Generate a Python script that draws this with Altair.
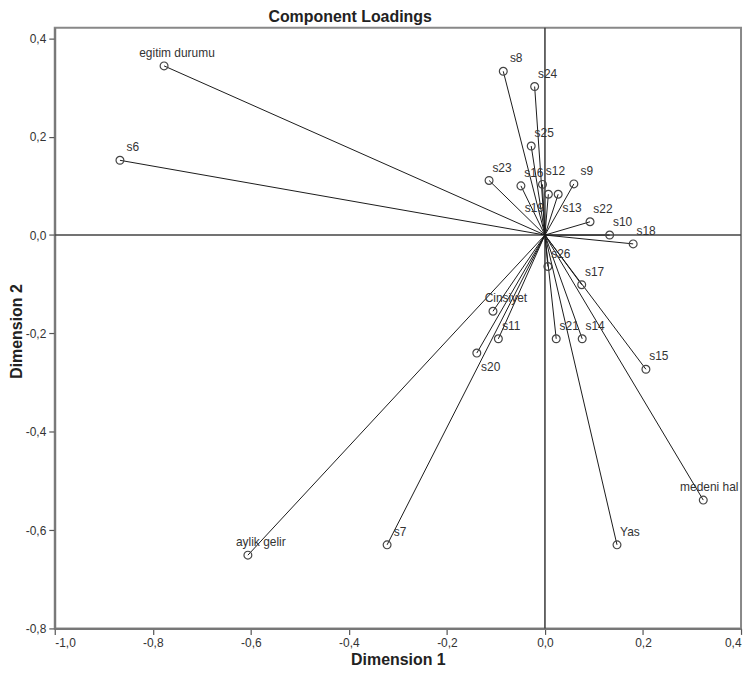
import altair as alt
import pandas as pd

# ---- data ----
names = ["egitim durumu", "s6", "s8", "s24", "s25", "s23", "s16", "s12", "s19", "s13",
         "s9", "s22", "s10", "s18", "s26", "s17", "Cinsiyet", "s11", "s21", "s14",
         "s20", "s15", "medeni hal", "Yas", "aylik gelir", "s7"]
dim1 = [-0.777, -0.867, -0.085, -0.021, -0.028, -0.114, -0.049, -0.005, 0.007, 0.027,
        0.059, 0.092, 0.132, 0.180, 0.006, 0.075, -0.106, -0.095, 0.023, 0.076,
        -0.139, 0.206, 0.323, 0.147, -0.606, -0.322]
dim2 = [0.344, 0.152, 0.333, 0.302, 0.181, 0.111, 0.100, 0.103, 0.083, 0.083,
        0.104, 0.027, 0.000, -0.018, -0.064, -0.101, -0.155, -0.211, -0.211, -0.211,
        -0.240, -0.273, -0.539, -0.630, -0.651, -0.630]

x_ticks = [-1.0, -0.8, -0.6, -0.4, -0.2, 0.0, 0.2, 0.4]
y_ticks = [-0.8, -0.6, -0.4, -0.2, 0.0, 0.2, 0.4]

below_right = ["s13", "s20"]
below_left = ["s19"]
shifted_left = ["medeni hal"]

df = pd.DataFrame({"name": names, "d1": dim1, "d2": dim2})
zero_df = pd.DataFrame({"z": [0.0]})

FONT = "Liberation Sans"
label_expr = "(datum.value < 0 ? '-' : '') + replace(format(abs(datum.value), '.1f'), '.', ',')"

xscale = alt.Scale(domain=[-1.0, 0.4], nice=False, zero=False)
yscale = alt.Scale(domain=[-0.8, 0.4217], nice=False, zero=False)

x_axis = alt.Axis(values=x_ticks, labelExpr=label_expr, title="Dimension 1",
                  titleY=31, titleBaseline="middle")
y_axis = alt.Axis(values=y_ticks, labelExpr=label_expr, title="Dimension 2",
                  titleX=-38, titleY=305, titleAngle=-90, titleBaseline="middle",
                  titleAlign="center")

X = alt.X("d1:Q", scale=xscale, axis=x_axis)
Y = alt.Y("d2:Q", scale=yscale, axis=y_axis)

base = alt.Chart(df)

zero_h = alt.Chart(zero_df).mark_rule(color="#444444", strokeWidth=1.6).encode(
    y=alt.Y("z:Q", scale=yscale, axis=y_axis))
zero_v = alt.Chart(zero_df).mark_rule(color="#444444", strokeWidth=1.6).encode(
    x=alt.X("z:Q", scale=xscale, axis=x_axis))

vectors = base.mark_rule(color="#1a1a1a", strokeWidth=1).encode(
    x=X, y=Y, x2=alt.datum(0), y2=alt.datum(0))

points = base.mark_point(shape="circle", filled=False, size=62, color="#444444",
                         strokeWidth=1.2, opacity=1).encode(x=X, y=Y)

special = below_right + below_left + shifted_left
txt_style = dict(font=FONT, fontSize=12, color="#333333", align="center", baseline="middle")

labels_main = base.transform_filter(
    ~alt.FieldOneOfPredicate(field="name", oneOf=special)
).mark_text(dx=13, dy=-13, **txt_style).encode(x=X, y=Y, text="name:N")

labels_br = base.transform_filter(
    alt.FieldOneOfPredicate(field="name", oneOf=below_right)
).mark_text(dx=14, dy=14, **txt_style).encode(x=X, y=Y, text="name:N")

labels_bl = base.transform_filter(
    alt.FieldOneOfPredicate(field="name", oneOf=below_left)
).mark_text(dx=-14, dy=14, **txt_style).encode(x=X, y=Y, text="name:N")

labels_sl = base.transform_filter(
    alt.FieldOneOfPredicate(field="name", oneOf=shifted_left)
).mark_text(dx=6, dy=-13, **txt_style).encode(x=X, y=Y, text="name:N")

chart = alt.layer(
    zero_h, zero_v, vectors, points, labels_main, labels_br, labels_bl, labels_sl
).properties(
    width=690,
    height=604,
    padding={"left": 47, "top": 18, "right": 4, "bottom": 39},
    autosize=alt.AutoSizeParams(type="none"),
    title=alt.TitleParams("Component Loadings", font=FONT, fontSize=16, fontWeight="bold",
                          color="#222222", anchor="middle", frame="group", dx=-48,
                          offset=2, dy=13, baseline="alphabetic"),
).configure_view(
    stroke="#888888", strokeWidth=2
).configure_axis(
    grid=False,
    domainColor="#777777", domainWidth=2,
    tickColor="#555555", tickSize=6, tickWidth=1.2,
    labelFont=FONT, labelFontSize=12, labelColor="#333333", labelPadding=3,
    titleFont=FONT, titleFontSize=16, titleFontWeight="bold", titleColor="#222222",
)

chart.save("out.html", embed_options={"renderer": "svg", "actions": False})
